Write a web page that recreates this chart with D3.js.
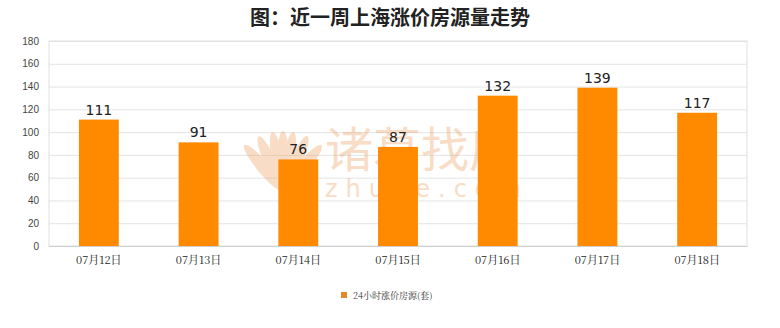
<!DOCTYPE html>
<html>
<head>
<meta charset="utf-8">
<script src="https://cdn.jsdelivr.net/npm/d3@7"></script>
<style>
  body { margin: 0; background: #fff; }
</style>
</head>
<body>
<div id="chart"></div>
<script>
// Data
const dates = ["07月12日", "07月13日", "07月14日", "07月15日", "07月16日", "07月17日", "07月18日"];
const counts = [111, 91, 76, 87, 132, 139, 117];
const yTicks = [0, 20, 40, 60, 80, 100, 120, 140, 160, 180];
const seriesName = "24小时涨价房源(套)";
const title = "图：近一周上海涨价房源量走势";

// Set up the dimensions
const margin = { top: 41, right: 33, bottom: 82, left: 49 };
const width = 780 - margin.left - margin.right;
const height = 328 - margin.top - margin.bottom;

const root = d3.select("#chart")
    .append("svg")
    .attr("width", 780)
    .attr("height", 328);

root.append("text")
    .attr("x", 390)
    .attr("y", 25)
    .attr("text-anchor", "middle")
    .style("font-family", "'Noto Sans CJK SC'")
    .style("font-size", "20px")
    .style("font-weight", 700)
    .attr("fill", "#222")
    .text(title);

const svg = root.append("g")
    .attr("transform", `translate(${margin.left},${margin.top})`);

// Scales
const x = d3.scaleBand()
    .domain(dates)
    .range([0, width])
    .paddingInner(0.6)
    .paddingOuter(0.3);

const y = d3.scaleLinear()
    .domain([0, 180])
    .range([height, 0]);

// Grid + y axis
const yAxis = svg.append("g")
    .call(d3.axisLeft(y)
        .tickValues(yTicks)
        .tickSize(-width)
        .tickPadding(10))
    .style("font-family", "Arial, 'Liberation Sans'")
    .style("font-size", "10px");
yAxis.select(".domain").remove();
yAxis.selectAll(".tick line").attr("stroke", "#e4e4e4");
yAxis.selectAll(".tick text").attr("fill", "#444");

// Plot frame
svg.append("rect")
    .attr("width", width)
    .attr("height", height)
    .attr("fill", "none")
    .attr("stroke", "#e0e0e0");

// Watermark (logo petals + text), behind the bars
const wm = svg.append("g").attr("opacity", 0.4).attr("fill", "#eeaa70");
const petals = [-40, -24, -10, 0, 10, 24, 40];
wm.selectAll("ellipse")
    .data(petals)
    .enter()
    .append("ellipse")
    .attr("transform", a => `translate(234,150) rotate(${a}) translate(0,-30)`)
    .attr("rx", 6)
    .attr("ry", 30);
wm.append("text")
    .attr("x", 276)
    .attr("y", 126)
    .style("font-family", "'Noto Sans CJK SC'")
    .style("font-size", "48px")
    .style("font-weight", 400)
    .text("诸葛找房");
wm.append("text")
    .attr("x", 276)
    .attr("y", 156)
    .style("font-family", "'DejaVu Sans'")
    .style("font-size", "24px")
    .style("letter-spacing", "8px")
    .text("zhuge.com");

// X axis
const xAxis = svg.append("g")
    .attr("transform", `translate(0,${height})`)
    .call(d3.axisBottom(x).tickSize(0).tickPadding(10))
    .style("font-family", "'Noto Serif CJK SC', 'Noto Sans CJK SC'")
    .style("font-size", "11px");
xAxis.select(".domain").attr("stroke", "#d0d0d0");
xAxis.selectAll(".tick text").attr("fill", "#222");

// Bars
svg.selectAll(".bar")
    .data(counts)
    .enter()
    .append("rect")
    .attr("class", "bar")
    .attr("fill", "#ff8a00")
    .attr("x", (d, i) => x(dates[i]))
    .attr("width", x.bandwidth())
    .attr("y", d => y(d))
    .attr("height", d => height - y(d));

// Value labels
svg.selectAll(".bar-label")
    .data(counts)
    .enter()
    .append("text")
    .attr("class", "bar-label")
    .attr("text-anchor", "middle")
    .style("font-family", "'DejaVu Sans'")
    .style("font-size", "14px")
    .attr("fill", "#222")
    .attr("x", (d, i) => x(dates[i]) + x.bandwidth() / 2)
    .attr("y", d => y(d) - 5)
    .text(d => d);

// Legend
const legend = root.append("g")
    .attr("transform", "translate(341,292)");
legend.append("rect")
    .attr("width", 6)
    .attr("height", 6)
    .attr("fill", "#e08a2a");
legend.append("text")
    .attr("x", 12)
    .attr("y", 7)
    .style("font-family", "'Noto Serif CJK SC', 'Noto Sans CJK SC'")
    .style("font-size", "9px")
    .attr("fill", "#333")
    .text(seriesName);
</script>
</body>
</html>
